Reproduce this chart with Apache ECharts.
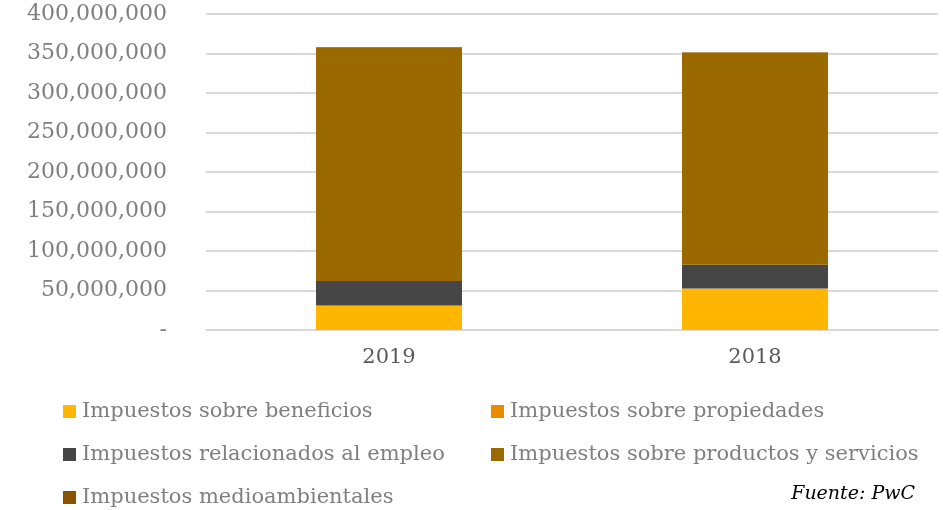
<!DOCTYPE html>
<html>
<head>
<meta charset="utf-8">
<script src="https://cdn.jsdelivr.net/npm/echarts@6/dist/echarts.min.js"></script>
<style>
  html, body { margin: 0; padding: 0; background: #fff; }
  #chart { width: 943px; height: 510px; }
</style>
</head>
<body>
<div id="chart"></div>
<script>
// datos
var years = ['2019', '2018'];
var beneficios = [30800000, 52300000];
var propiedades = [300000, 300000];
var empleo = [30900000, 30100000];
var productos = [295800000, 268600000];
var medioambientales = [300000, 300000];

var names = [
  'Impuestos sobre beneficios',
  'Impuestos sobre propiedades',
  'Impuestos relacionados al empleo',
  'Impuestos sobre productos y servicios',
  'Impuestos medioambientales'
];
var colors = ['#FFB600', '#EB8C00', '#464646', '#9A6A00', '#8A5300'];
var values = [beneficios, propiedades, empleo, productos, medioambientales];

// posición de cada entrada de la leyenda
var legendPos = [[63, 401], [491, 401], [63, 444], [491, 444], [63, 487]];

var font = 'DejaVu Serif, Liberation Serif, serif';

var chart = echarts.init(document.getElementById('chart'));

var series = names.map(function (n, i) {
  return {
    name: n,
    type: 'bar',
    stack: 'total',
    barWidth: 146,
    itemStyle: { color: colors[i] },
    data: values[i]
  };
});

var legends = names.map(function (n, i) {
  return {
    left: legendPos[i][0],
    top: legendPos[i][1],
    data: [n],
    itemWidth: 13,
    itemHeight: 13,
    icon: 'rect',
    padding: 0,
    textStyle: { color: '#7f7f7f', fontFamily: font, fontSize: 21, padding: [0, 0, 0, 1] }
  };
});

chart.setOption({
  animation: false,
  color: colors,
  grid: { left: 206, right: 5, top: 14, bottom: 180 },
  legend: legends,
  xAxis: {
    type: 'category',
    data: years,
    axisLine: { lineStyle: { color: '#d9d9d9', width: 2 } },
    axisTick: { show: false },
    axisLabel: { color: '#595959', fontFamily: font, fontSize: 21, margin: 17 }
  },
  yAxis: {
    type: 'value',
    min: 0,
    max: 400000000,
    interval: 50000000,
    axisLine: { show: false },
    axisTick: { show: false },
    splitLine: { lineStyle: { color: '#d9d9d9', width: 2 } },
    axisLabel: {
      color: '#7f7f7f',
      fontFamily: font,
      fontSize: 22,
      margin: 39,
      formatter: function (v) {
        if (v === 0) return '-';
        return v.toLocaleString('en-US');
      }
    }
  },
  graphic: [{
    type: 'text',
    right: 28,
    top: 485,
    style: { text: 'Fuente: PwC', fill: '#000', font: 'italic 19px ' + font }
  }],
  series: series
});
</script>
</body>
</html>
